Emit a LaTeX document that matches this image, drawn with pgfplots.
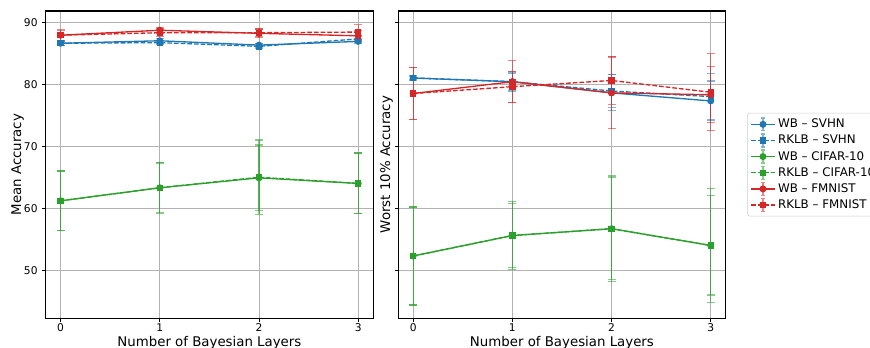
\documentclass[border=0pt]{standalone}
\usepackage{pgfplots}
\pgfplotsset{compat=1.18}
\usepackage{fontspec}
\setmainfont{DejaVu Sans}
\definecolor{tblue}{HTML}{1F77B4}
\definecolor{tgreen}{HTML}{2CA02C}
\definecolor{tred}{HTML}{D62728}
\pgfplotsset{
  base/.style={
    scale only axis, width=245.5pt, height=230.5pt, anchor=south west,
    xmin=-0.15, xmax=3.15, ymin=42.25, ymax=91.8,
    xtick={0,1,2,3}, ytick={50,60,70,80,90},
    grid=major, grid style={color=black!30, line width=0.6pt},
    axis line style={line width=0.8pt},
    tick style={black, line width=0.6pt}, tick align=outside, major tick length=2.6pt,
    tick label style={font=\fontsize{8}{9}\selectfont},
    xticklabel style={inner sep=1pt},
    label style={font=\fontsize{10}{12}\selectfont},
    xlabel style={at={(axis description cs:0.5,-0.044)}, anchor=north},
    /pgf/number format/assume math mode=true,
    xtick pos=bottom, ytick pos=left,
    xlabel={Number of Bayesian Layers},
    every axis plot/.append style={line width=1pt},
    error bars/y dir=both, error bars/y explicit,
    error bars/error bar style={solid, opacity=0.55, line width=0.9pt},
    error bars/error mark options={rotate=90, mark size=3pt, solid, opacity=0.55, line width=0.9pt},
  },
  wb/.style={color=#1, solid, mark=*, mark size=2.1pt, mark options={solid}},
  rk/.style={color=#1, dash pattern=on 3.5pt off 1.5pt, mark=square*, mark size=1.9pt, mark options={solid}},
  legend image code/.code={
    \draw[#1, solid, opacity=0.55, mark=none] (0.31cm,-0.17cm)--(0.31cm,0.17cm) (0.25cm,-0.17cm)--(0.37cm,-0.17cm) (0.25cm,0.17cm)--(0.37cm,0.17cm);
    \draw[mark repeat=2,mark phase=2,#1] plot coordinates {(0cm,0cm) (0.31cm,0cm) (0.62cm,0cm)};
  },
}
\begin{document}
\begin{tikzpicture}
\begin{axis}[base, at={(34.3pt,21.5pt)}, ylabel={Mean Accuracy},
  ylabel style={at={(axis description cs:-0.0525,0.5)}, anchor=south}]
\addplot[wb=tblue] table[x index=0,y index=1,y error index=2] {
0 86.6 0.3
1 87.0 0.4
2 86.3 0.3
3 86.9 0.4
};
\addplot[rk=tblue] table[x index=0,y index=1,y error index=2] {
0 86.6 0.3
1 86.7 0.3
2 86.1 0.4
3 87.3 0.5
};
\addplot[wb=tgreen] table[x index=0,y index=1,y error index=2] {
0 61.2 4.8
1 63.3 4.1
2 64.9 5.3
3 64.0 4.9
};
\addplot[rk=tgreen] table[x index=0,y index=1,y error index=2] {
0 61.2 4.8
1 63.3 4.0
2 65.0 6.0
3 64.0 4.9
};
\addplot[wb=tred] table[x index=0,y index=1,y error index=2] {
0 87.9 0.9
1 88.7 0.5
2 88.2 0.7
3 87.8 0.8
};
\addplot[rk=tred] table[x index=0,y index=1,y error index=2] {
0 87.9 0.8
1 88.3 0.6
2 88.3 0.6
3 88.4 1.2
};
\end{axis}
\begin{axis}[base, at={(298.7pt,21.5pt)}, ylabel={Worst 10\% Accuracy}, yticklabels={},
  ylabel style={at={(axis description cs:-0.002,0.5)}, anchor=south},
  legend style={at={(1.066,0.5)}, anchor=west, draw=black!20, rounded corners=2pt,
    font=\fontsize{8.9}{10}\selectfont, row sep=0pt, inner sep=2.3pt},
  legend cell align=left]
\addplot[wb=tblue] table[x index=0,y index=1,y error index=2] {
0 81.0 0.3
1 80.4 1.4
2 78.6 2.9
3 77.3 3.2
};
\addlegendentry{WB – SVHN}
\addplot[rk=tblue] table[x index=0,y index=1,y error index=2] {
0 81.0 0.4
1 80.4 1.6
2 78.9 2.6
3 78.0 3.7
};
\addlegendentry{RKLB – SVHN}
\addplot[wb=tgreen] table[x index=0,y index=1,y error index=2] {
0 52.3 7.9
1 55.6 5.5
2 56.7 8.5
3 54.0 9.2
};
\addlegendentry{WB – CIFAR-10}
\addplot[rk=tgreen] table[x index=0,y index=1,y error index=2] {
0 52.3 7.9
1 55.6 5.2
2 56.7 8.2
3 54.0 8.0
};
\addlegendentry{RKLB – CIFAR-10}
\addplot[wb=tred] table[x index=0,y index=1,y error index=2] {
0 78.5 4.2
1 80.4 3.4
2 78.6 5.8
3 78.3 4.5
};
\addlegendentry{WB – FMNIST}
\addplot[rk=tred] table[x index=0,y index=1,y error index=2] {
0 78.5 4.2
1 79.6 2.5
2 80.6 3.9
3 78.7 6.2
};
\addlegendentry{RKLB – FMNIST}
\end{axis}
\pgfresetboundingbox
\useasboundingbox (0,0) rectangle (652.5pt,260.25pt);
\end{tikzpicture}
\end{document}
